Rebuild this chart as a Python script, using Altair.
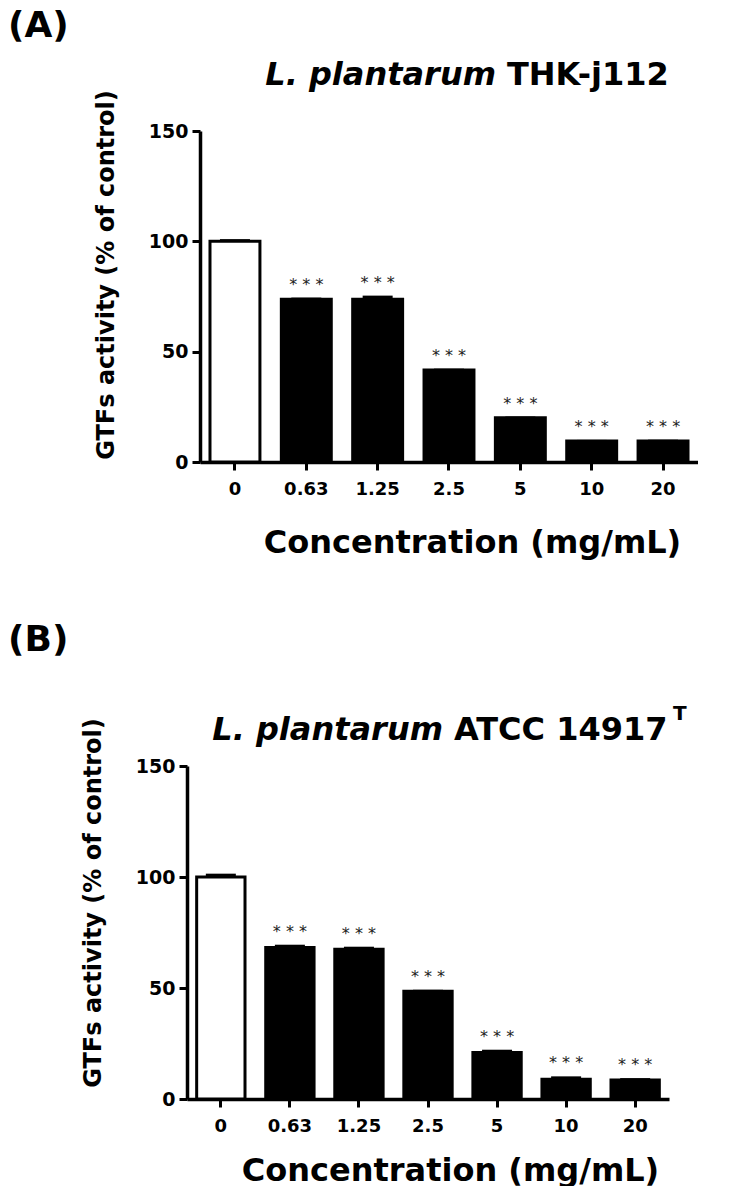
import altair as alt
import pandas as pd

FONT = "DejaVu Sans"

conc = ["0", "0.63", "1.25", "2.5", "5", "10", "20"]
a_vals = [100.0, 73.7, 73.8, 41.7, 20.0, 9.5, 9.5]
a_errs = [1.0, 0.8, 1.6, 0.6, 0.6, 0.5, 0.6]
b_vals = [100.0, 68.2, 67.4, 48.5, 20.9, 8.9, 8.6]
b_errs = [1.5, 1.3, 1.2, 0.7, 1.3, 1.3, 0.8]
sig = ["", "* * *", "* * *", "* * *", "* * *", "* * *", "* * *"]
fills = ["white", "black", "black", "black", "black", "black", "black"]

y_ticks = [0, 50, 100, 150]
x_title = "Concentration (mg/mL)"
y_title = "GTFs activity (% of control)"


def panel(vals, errs, width, height, shift, tag, tag_x, tag_y, ital, bold,
          ital_x, bold_x, title_y, x_title_x, x_title_pad, y_title_shift,
          sup=None, sup_x=None, sup_y=None):
    df = pd.DataFrame({
        "conc": conc,
        "value": vals,
        "top": [v + e for v, e in zip(vals, errs)],
        "sig": sig,
        "fill": fills,
    })
    scale_args = dict(paddingInner=0.3, paddingOuter=0.14)
    if shift:
        scale_args["range"] = [-shift, width - shift]
    x = alt.X(
        "conc:N", sort=conc,
        scale=alt.Scale(**scale_args),
        axis=alt.Axis(
            title=x_title, labelAngle=0, labelFont=FONT, labelFontSize=18,
            labelFontWeight="bold", labelColor="black", labelPadding=10,
            tickSize=8, tickWidth=3, tickColor="black", domainWidth=3.5,
            domainColor="black", titleFont=FONT, titleFontSize=32,
            titleFontWeight="bold", titleColor="black",
            titlePadding=x_title_pad, titleX=x_title_x,
        ),
    )
    y = alt.Y(
        "value:Q",
        scale=alt.Scale(domain=[0, 150], nice=False),
        axis=alt.Axis(
            values=y_ticks, title=y_title, grid=False, labelFont=FONT,
            labelFontSize=19, labelFontWeight="bold", labelColor="black",
            labelPadding=4, tickSize=8, tickWidth=3, tickColor="black",
            domainWidth=3.5, domainColor="black", titleFont=FONT,
            titleFontSize=24, titleFontWeight="bold", titleColor="black",
            titlePadding=30, titleY=height / 2 + y_title_shift,
            offset=shift,
        ),
    )
    base = alt.Chart(df)
    bars = base.mark_bar(stroke="black", strokeWidth=3).encode(
        x=x, y=y, fill=alt.Fill("fill:N", scale=None)
    )
    err = base.mark_bar(size=30, color="black").encode(
        x=x, y="value:Q", y2="top:Q"
    )
    stars = base.mark_text(
        font=FONT, fontSize=16, color="#222", baseline="middle", dy=-13
    ).encode(x=x, y="top:Q", text="sig:N")

    def note(text, px, py, size, style="normal", align="left",
             baseline="alphabetic"):
        return alt.Chart(pd.DataFrame({"t": [text]})).mark_text(
            font=FONT, fontSize=size, fontWeight="bold", fontStyle=style,
            color="black", align=align, baseline=baseline,
        ).encode(text="t:N", x=alt.value(px), y=alt.value(py))

    layers = [
        bars, err, stars,
        note(tag, tag_x, tag_y, 36, baseline="top"),
        note(ital, ital_x, title_y, 32, style="italic", align="right"),
        note(bold, bold_x, title_y, 32),
    ]
    if sup:
        layers.append(note(sup, sup_x, sup_y, 20))
    return alt.layer(*layers).properties(width=width, height=height)


pa = panel(a_vals, a_errs, 498, 331, 0, "(A)", -192, -122,
           "L. plantarum", "THK-j112", 296, 307, -46,
           272, 29, -22)
pb = panel(b_vals, b_errs, 482, 333, 13, "(B)", -192, -143,
           "L. plantarum", "ATCC 14917", 243, 254, -26,
           250, 20, -30,
           sup="T", sup_x=473, sup_y=-46)

chart = alt.ConcatChart(
    concat=[pa, pb], columns=1, spacing=64
).properties(padding=0).configure_view(stroke=None)

chart.save("out.html", embed_options={"renderer": "svg", "actions": False})
